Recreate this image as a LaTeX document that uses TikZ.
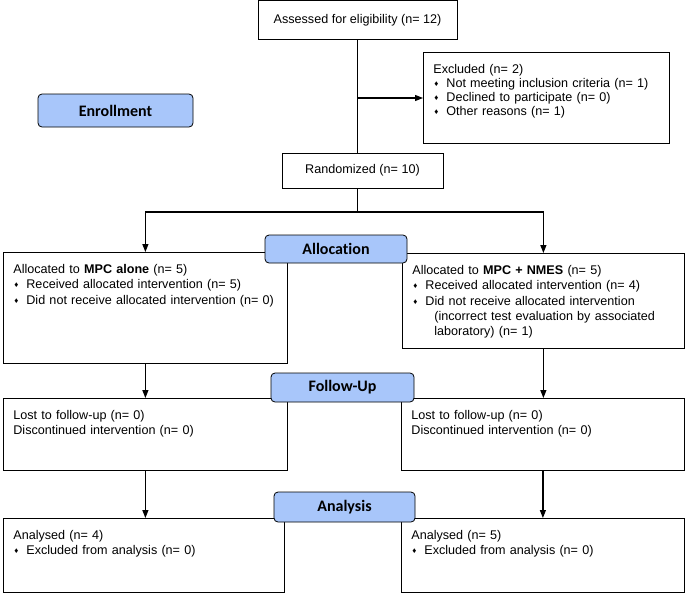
\documentclass[tikz,border=0pt]{standalone}
\usepackage{fontspec}
\setmainfont{Liberation Sans}
\newfontfamily\stagefont[Ligatures=NoCommon]{Carlito}
\usetikzlibrary{arrows.meta}

\definecolor{stageblue}{RGB}{168,198,250}
\newcommand{\dmd}{\makebox[13pt][l]{\hspace*{1pt}\raisebox{1pt}{\fontsize{8}{8}\selectfont ♦}}}

\tikzset{
  box/.style={rectangle, draw, line width=0.8pt, anchor=north west, align=left,
    inner xsep=10pt, inner ysep=10pt, text height=11pt, font=\fontsize{12.6}{15.3}\selectfont},
  cbox/.style={rectangle, draw, line width=0.8pt, align=center, font=\fontsize{12.6}{15.3}\selectfont},
  stage/.style={rectangle, draw, line width=0.8pt, rounded corners=4pt, fill=stageblue,
    font=\stagefont\bfseries\fontsize{16}{19}\selectfont},
  ln/.style={line width=1.2pt},
  arr/.style={line width=1.2pt, -{Triangle[length=8pt,width=6pt]}}
}

\begin{document}
\begin{tikzpicture}[x=1pt,y=-1pt]
	\useasboundingbox (0,0) rectangle (685,592);

	\node[cbox, minimum width=199pt, minimum height=39pt] (assess) at (357.5,20) {Assessed for eligibility (n= 12)};
	\node[box, text width=226pt, text depth=60pt, font=\fontsize{12.6}{14}\selectfont] (excl) at (423,52) {Excluded (n= 2)\\ \dmd Not meeting inclusion criteria (n= 1)\\ \dmd Declined to participate (n= 0)\\ \dmd Other reasons (n= 1)};
	\node[cbox, minimum width=161pt, minimum height=35pt] (rand) at (362.5,170.5) {Randomized (n= 10)};
	\node[stage, minimum width=155pt, minimum height=33pt] (enrol) at (115.5,110.5) {Enrollment};

	\node[box, text width=264pt, text depth=80pt] (allocA) at (3,252) {Allocated to \textbf{MPC alone} (n= 5)\\ \dmd Received allocated intervention (n= 5)\\ \dmd Did not receive allocated intervention (n= 0)};
	\node[box, text width=262pt, text depth=64pt] (allocB) at (402,253) {Allocated to \textbf{MPC + NMES} (n= 5)\\ \dmd Received allocated intervention (n= 4)\\ \dmd Did not receive allocated intervention\\ \hspace*{22pt}(incorrect test evaluation by associated\\ \hspace*{22pt}laboratory) (n= 1)};

	\node[box, text width=264pt, text depth=41pt] (fuA) at (3,398) {Lost to follow-up (n= 0)\\ Discontinued intervention (n= 0)};
	\node[box, text width=263pt, text depth=41pt] (fuB) at (401,398) {Lost to follow-up (n= 0)\\ Discontinued intervention (n= 0)};

	\node[box, text width=261pt, text depth=42.5pt] (anA) at (3,518) {Analysed (n= 4)\\ \dmd Excluded from analysis (n= 0)};
	\node[box, text width=263pt, text depth=42.5pt] (anB) at (401,518) {Analysed (n= 5)\\ \dmd Excluded from analysis (n= 0)};

	\coordinate (excl-in) at (357.5,98);
	\coordinate (split) at (357.5,212);
	\draw[ln] (assess.south) -- (assess.south |- rand.north);
	\draw[arr] (excl-in) -- (excl-in -| excl.west);
	\draw[ln] (assess.south |- rand.south) -- (split);
	\draw[arr] (split) -| (allocA.north);
	\draw[arr] (split) -| (allocB.north);
	\draw[arr] (allocA.south) -- (allocA.south |- fuA.north);
	\draw[arr] (allocB.south) -- (allocB.south |- fuB.north);
	\draw[arr] (fuA.south) -- (fuA.south |- anA.north);
	\draw[arr] (fuB.south) -- (fuB.south |- anB.north);

	\node[stage, minimum width=142pt, minimum height=28pt] (alloc) at (336,249) {Allocation};
	\node[stage, minimum width=143pt, minimum height=29pt] (fu) at (342.5,387.5) {Follow-Up};
	\node[stage, minimum width=141pt, minimum height=30pt] (an) at (344.5,507) {Analysis};
\end{tikzpicture}
\end{document}
